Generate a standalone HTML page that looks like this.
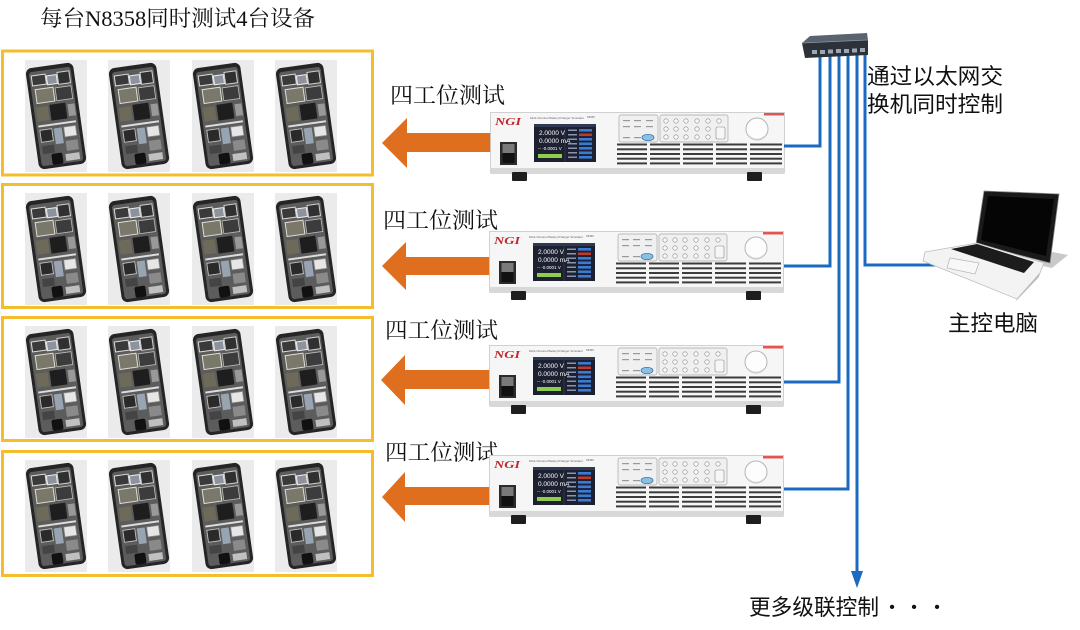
<!DOCTYPE html>
<html><head><meta charset="utf-8"><style>
html,body{margin:0;padding:0;background:#fff;}
svg{display:block;}
.ser{font-family:"Liberation Serif","Noto Serif CJK SC",serif;}
.san{font-family:"Liberation Sans","Noto Sans CJK SC",sans-serif;}
</style></head><body>
<svg width="1080" height="630" viewBox="0 0 1080 630" xmlns="http://www.w3.org/2000/svg">
<defs>
<symbol id="ph" viewBox="0 0 62 112" width="62" height="112">
 <rect width="62" height="112" fill="#ebebeb"/>
 <g transform="rotate(-8 31 56)">
  <rect x="7" y="5" width="48" height="102" rx="6" fill="#252525"/>
  <rect x="10" y="9" width="42" height="95" rx="3" fill="#5c5c5c"/>
  <rect x="12" y="13" width="14" height="10" fill="#3a3a3a" stroke="#dcdcdc" stroke-width="1"/>
  <rect x="27" y="15" width="10" height="9" fill="#8d939c" stroke="#eee" stroke-width="1"/>
  <rect x="38" y="13" width="12" height="12" fill="#303030" stroke="#d0d0d0" stroke-width="1"/>
  <rect x="14" y="27" width="18" height="14" fill="#7a786a" stroke="#e0e0d0" stroke-width="1"/>
  <rect x="34" y="28" width="16" height="13" fill="#3c3c3c" stroke="#bbb" stroke-width="0.8"/>
  <rect x="12" y="45" width="12" height="14" fill="#6e6a5a"/>
  <rect x="26" y="44" width="16" height="16" fill="#1e1e1e"/>
  <rect x="44" y="46" width="7" height="12" fill="#999"/>
  <rect x="12" y="63" width="38" height="2" fill="#ddd"/>
  <rect x="13" y="68" width="12" height="12" fill="#2a2a2a" stroke="#ccc" stroke-width="0.8"/>
  <rect x="27" y="68" width="8" height="16" fill="#98a4b2"/>
  <rect x="37" y="68" width="12" height="10" fill="#e6e6e6" stroke="#888" stroke-width="0.8"/>
  <rect x="13" y="84" width="12" height="8" fill="#444"/>
  <rect x="37" y="82" width="12" height="10" fill="#8a8a8a"/>
  <rect x="21" y="93" width="11" height="11" rx="2" fill="#111"/>
  <rect x="35" y="95" width="14" height="7" fill="#c0c0c0"/>
 </g>
</symbol>
<symbol id="inst" viewBox="0 0 296 72" width="296" height="72">
 <rect x="0.5" y="0.5" width="294" height="60" fill="#f6f6f6" stroke="#c6c6c6" stroke-width="0.8"/>
 <rect x="0.5" y="56" width="294" height="6" fill="#d8d8d8"/>
 <rect x="22" y="60" width="15" height="9" rx="1" fill="#1e1e1e"/>
 <rect x="257" y="60" width="15" height="9" rx="1" fill="#1e1e1e"/>
 <rect x="274" y="1" width="20" height="2.5" fill="#e25555"/>
 <text x="5" y="13" font-family="Liberation Serif" font-style="italic" font-weight="bold" font-size="10" fill="#c0282e" textLength="26" lengthAdjust="spacingAndGlyphs">NGI</text>
 <text x="40" y="7" font-family="Liberation Sans" font-size="3" fill="#666">Multi-Channel Battery/Charger Simulator</text>
 <text x="97" y="6" font-family="Liberation Sans" font-size="2.6" fill="#666">N8358</text>
 <rect x="10" y="30" width="17" height="23" fill="#2b2b2b"/>
 <rect x="12.5" y="32" width="12" height="9" fill="#7a7a7a"/>
 <rect x="12.5" y="41" width="12" height="10" fill="#111"/>
 <rect x="44" y="12" width="62" height="38" fill="#1c2030"/>
 <rect x="44" y="12" width="62" height="3" fill="#2e3a52"/>
 <line x1="75" y1="15" x2="75" y2="50" stroke="#445" stroke-width="0.6"/>
 <text x="49" y="23" font-family="Liberation Sans" font-size="6.5" fill="#fff">2.0000 V</text>
 <text x="49" y="31" font-family="Liberation Sans" font-size="6.5" fill="#fff">0.0000 mA</text>
 <text x="48" y="38" font-family="Liberation Sans" font-size="4.5" fill="#fff">-- -0.0001 V</text>
 <rect x="48" y="42" width="24" height="4" fill="#8fce4a"/>
 <g fill="#3a7bd5">
  <rect x="89" y="17" width="13" height="2.6"/><rect x="89" y="21.5" width="13" height="2.6" fill="#c0392b"/>
  <rect x="89" y="26" width="13" height="2.6"/><rect x="89" y="30.5" width="13" height="2.6"/>
  <rect x="89" y="35" width="13" height="2.6"/><rect x="89" y="39.5" width="13" height="2.6"/>
  <rect x="89" y="44" width="13" height="2.6"/>
 </g>
 <g fill="#8894b0">
  <rect x="78" y="17.5" width="9" height="1.5"/><rect x="78" y="22" width="9" height="1.5"/>
  <rect x="78" y="26.5" width="9" height="1.5"/><rect x="78" y="31" width="9" height="1.5"/>
  <rect x="78" y="35.5" width="9" height="1.5"/><rect x="78" y="40" width="9" height="1.5"/>
  <rect x="78" y="44.5" width="9" height="1.5"/>
 </g>
 <rect x="129" y="3" width="39" height="27" rx="2" fill="#f0f0f0" stroke="#a8a8a8" stroke-width="0.7"/>
 <g fill="#9a9a9a">
  <rect x="133" y="8" width="7" height="1.2"/><rect x="144" y="8" width="7" height="1.2"/><rect x="156" y="8" width="7" height="1.2"/>
  <rect x="133" y="14" width="7" height="1.2"/><rect x="144" y="14" width="7" height="1.2"/><rect x="156" y="14" width="7" height="1.2"/>
  <rect x="133" y="25" width="7" height="1.2"/><rect x="144" y="25" width="7" height="1.2"/>
 </g>
 <ellipse cx="158" cy="25.5" rx="6" ry="3.2" fill="#8cc0e2" stroke="#2b6fae" stroke-width="0.7"/>
 <rect x="170" y="3" width="68" height="27" rx="2" fill="#f0f0f0" stroke="#a8a8a8" stroke-width="0.7"/>
 <g fill="#fafafa" stroke="#8a8a8a" stroke-width="0.6">
  <circle cx="176" cy="9" r="2.2"/><circle cx="186" cy="9" r="2.2"/><circle cx="196" cy="9" r="2.2"/><circle cx="207" cy="9" r="2.2"/><circle cx="218" cy="9" r="2.2"/><circle cx="229" cy="9" r="2.2"/>
  <circle cx="176" cy="17" r="2.2"/><circle cx="186" cy="17" r="2.2"/><circle cx="196" cy="17" r="2.2"/><circle cx="207" cy="17" r="2.2"/><circle cx="218" cy="17" r="2.2"/>
  <circle cx="176" cy="25" r="2.2"/><circle cx="186" cy="25" r="2.2"/><circle cx="196" cy="25" r="2.2"/><circle cx="207" cy="25" r="2.2"/><circle cx="218" cy="25" r="2.2"/>
 </g>
 <rect x="226" y="15" width="9" height="12" rx="1.5" fill="#f6f6f6" stroke="#8a8a8a" stroke-width="0.6"/>
 <circle cx="267" cy="17" r="11" fill="#fdfdfd" stroke="#b5b5b5" stroke-width="1"/>
 <path d="M259 24 A11 11 0 0 0 275 24" fill="none" stroke="#d0d0d0" stroke-width="1.5"/>
 <g fill="#3c3c3c">
  <rect x="127" y="31.5" width="30" height="2"/><rect x="160" y="31.5" width="30" height="2"/><rect x="193" y="31.5" width="30" height="2"/><rect x="226" y="31.5" width="31" height="2"/><rect x="260" y="31.5" width="32" height="2"/>
  <rect x="127" y="36.3" width="30" height="2"/><rect x="160" y="36.3" width="30" height="2"/><rect x="193" y="36.3" width="30" height="2"/><rect x="226" y="36.3" width="31" height="2"/><rect x="260" y="36.3" width="32" height="2"/>
  <rect x="127" y="41" width="30" height="2"/><rect x="160" y="41" width="30" height="2"/><rect x="193" y="41" width="30" height="2"/><rect x="226" y="41" width="31" height="2"/><rect x="260" y="41" width="32" height="2"/>
  <rect x="127" y="45.7" width="30" height="2"/><rect x="160" y="45.7" width="30" height="2"/><rect x="193" y="45.7" width="30" height="2"/><rect x="226" y="45.7" width="31" height="2"/><rect x="260" y="45.7" width="32" height="2"/>
  <rect x="127" y="50.4" width="30" height="2"/><rect x="160" y="50.4" width="30" height="2"/><rect x="193" y="50.4" width="30" height="2"/><rect x="226" y="50.4" width="31" height="2"/><rect x="260" y="50.4" width="32" height="2"/>
 </g>
</symbol>
</defs>

<!-- title -->
<text class="ser" x="40" y="26" font-size="22" fill="#111" textLength="275" lengthAdjust="spacingAndGlyphs">每台N8358同时测试4台设备</text>

<!-- yellow boxes -->
<g fill="none" stroke="#f4bd2c" stroke-width="3">
 <rect x="2.5" y="51" width="370" height="124"/>
 <rect x="2.5" y="184.5" width="370" height="123"/>
 <rect x="2.5" y="317.5" width="370" height="123"/>
 <rect x="2.5" y="451.5" width="370" height="124"/>
</g>

<!-- phones -->
<use href="#ph" x="25" y="60"/><use href="#ph" x="108" y="60"/><use href="#ph" x="192" y="60"/><use href="#ph" x="275" y="60"/>
<use href="#ph" x="25" y="193"/><use href="#ph" x="108" y="193"/><use href="#ph" x="192" y="193"/><use href="#ph" x="275" y="193"/>
<use href="#ph" x="25" y="326"/><use href="#ph" x="108" y="326"/><use href="#ph" x="192" y="326"/><use href="#ph" x="275" y="326"/>
<use href="#ph" x="25" y="460"/><use href="#ph" x="108" y="460"/><use href="#ph" x="192" y="460"/><use href="#ph" x="275" y="460"/>

<!-- arrows -->
<g fill="#df6e1f">
 <polygon points="382,143 407,118 407,133 492,133 492,152 407,152 407,168"/>
 <polygon points="382,266 406,242 406,257 492,257 492,275 406,275 406,290"/>
 <polygon points="381,380 405,355 405,370 492,370 492,389 405,389 405,405"/>
 <polygon points="382,497 405,472 405,487 492,487 492,505 405,505 405,522"/>
</g>

<!-- labels -->
<g class="ser" font-size="22" fill="#111">
 <text x="390" y="103" textLength="115" lengthAdjust="spacingAndGlyphs">四工位测试</text>
 <text x="383" y="228" textLength="115" lengthAdjust="spacingAndGlyphs">四工位测试</text>
 <text x="385" y="338" textLength="113" lengthAdjust="spacingAndGlyphs">四工位测试</text>
 <text x="385" y="460" textLength="113" lengthAdjust="spacingAndGlyphs">四工位测试</text>
</g>

<!-- instruments -->
<use href="#inst" x="490" y="112"/>
<use href="#inst" x="489" y="231"/>
<use href="#inst" x="489" y="345"/>
<use href="#inst" x="489" y="455"/>

<!-- blue network lines -->
<g fill="none" stroke="#1a6bbf" stroke-width="3">
 <polyline points="784,146 820,146 820,55"/>
 <polyline points="784,266 830,266 830,55"/>
 <polyline points="784,382 839,382 839,55"/>
 <polyline points="784,489 848,489 848,55"/>
 <polyline points="857,574 857,55"/>
 <polyline points="947,265 865,265 865,55"/>
</g>
<polygon points="851,571 863,571 857,588" fill="#1a6bbf"/>

<!-- switch -->
<polygon points="802,43 810,36 867,33 868,40" fill="#5a6470"/>
<polygon points="802,43 868,40 868,55 805,58" fill="#2d323a"/>
<line x1="802" y1="43" x2="868" y2="40" stroke="#8a94a0" stroke-width="0.8"/>
<g fill="#9aa8b4">
 <rect x="812" y="50" width="5" height="4"/><rect x="820" y="50" width="5" height="4"/><rect x="828" y="49.5" width="5" height="4"/><rect x="836" y="49" width="5" height="4"/>
 <rect x="844" y="49" width="5" height="4"/><rect x="852" y="48.5" width="5" height="4"/><rect x="860" y="48" width="5" height="4"/>
</g>

<!-- right text -->
<g class="san" font-size="22" fill="#111">
 <text x="867" y="84" textLength="136" lengthAdjust="spacingAndGlyphs">通过以太网交</text>
 <text x="867" y="112" textLength="136" lengthAdjust="spacingAndGlyphs">换机同时控制</text>
 <text x="948" y="331" textLength="90" lengthAdjust="spacingAndGlyphs">主控电脑</text>
 <text x="749" y="615" textLength="130" lengthAdjust="spacingAndGlyphs">更多级联控制</text>
</g>
<g class="san" font-size="16" fill="#111" text-anchor="middle">
 <text x="892" y="612">•</text><text x="914" y="612">•</text><text x="937" y="612">•</text>
</g>

<!-- laptop -->
<polygon points="1042,250 1068,255 1052,268 1038,265" fill="#c9c9c9"/>
<polygon points="984,191 1059,194 1050,263 976,244" fill="#1a1a1a" stroke="#8a8a8a" stroke-width="0.8"/>
<polygon points="988,196 1054,199 1046,256 981,240" fill="#050505"/>
<polygon points="925,252 977,243 1044,263 1040,273 1017,299 923,261" fill="#f3f3f3" stroke="#bdbdbd" stroke-width="0.8"/>
<polygon points="1040,273 1017,299 1015,302 1039,277" fill="#bbbbbb"/>
<polygon points="951,249 977,244 1034,262 1024,273" fill="#1c1c1c"/>
<polygon points="950,258 979,263 975,274 947,268" fill="#f8f8f8" stroke="#b5b5b5" stroke-width="0.7"/>
</svg>
</body></html>
